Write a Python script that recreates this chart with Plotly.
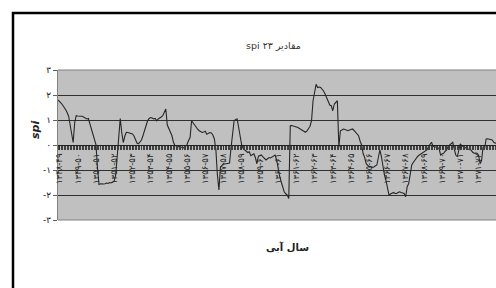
import plotly.graph_objects as go

FA = "۰۱۲۳۴۵۶۷۸۹"
def fa(s):
    return "".join(FA[int(c)] if c.isdigit() else c for c in str(s))

spi_values = [
    1.8, 1.75, 1.68, 1.6, 1.52, 1.42, 1.3, 1.15, 0.8, 0.4,
    0.1, 0.9, 1.17, 1.16, 1.17, 1.15, 1.15, 1.12, 1.06, 1.04,
    1.06, 0.85, 0.65, 0.42, 0.18, 0.02, -0.9, -1.58, -1.55, -1.57,
    -1.56, -1.55, -1.52, -1.54, -1.5, -1.52, -1.48, -1.45, -1.21, -0.5,
    0.1, 1.06, 0.5, 0.1, 0.35, 0.51, 0.5, 0.48, 0.47, 0.44,
    0.37, 0.25, 0.08, 0.05, 0.14, 0.2, 0.38, 0.57, 0.78, 0.97,
    1.06, 1.1, 1.08, 1.04, 1.06, 0.97, 1.04, 1.1, 1.12, 1.17,
    1.3, 1.44, 0.8, 0.68, 0.55, 0.38, 0.12, -0.02, -0.04, -0.06,
    -0.07, -0.1, -0.08, -0.12, -0.06, 0.02, 0.18, 0.3, 0.97, 0.88,
    0.78, 0.7, 0.63, 0.57, 0.55, 0.5, 0.52, 0.55, 0.43, 0.45,
    0.5, 0.48, 0.4, 0.24, -0.2, -1.2, -1.8, -0.88, -0.82, -0.75,
    -0.76, -0.74, -0.75, -0.72, -0.1, 0.44, 0.97, 1.02, 1.04, 0.7,
    0.31, 0.0, -0.15, -0.22, -0.25, -0.3, -0.27, -0.43, -0.38, -0.35,
    -0.5, -0.75, -0.45, -0.42, -0.4, -0.48, -0.55, -0.6, -0.55, -0.5,
    -0.52, -0.48, -0.45, -0.4, -0.6, -1.01, -1.25, -1.47, -1.7, -1.87,
    -1.95, -2.0, -2.14, 0.77, 0.78, 0.77, 0.75, 0.72, 0.7, 0.66,
    0.64, 0.6, 0.55, 0.51, 0.56, 0.64, 0.75, 0.97, 1.77, 2.1,
    2.43, 2.3, 2.32, 2.3, 2.24, 2.15, 2.03, 1.9, 1.77, 1.6,
    1.57, 1.37, 1.64, 1.72, 1.77, -0.09, 0.57, 0.6, 0.64, 0.62,
    0.6, 0.57, 0.6, 0.62, 0.64, 0.58, 0.51, 0.45, 0.37, 0.15,
    0.0, -0.35, -0.5, -0.75, -0.82, -0.88, -0.86, -0.9, -0.88, -0.85,
    -0.8, -0.5, -0.2, -0.45, -0.93, -1.2, -1.41, -1.75, -2.0, -1.96,
    -1.94, -1.9, -1.94, -1.94, -1.9, -1.87, -1.9, -1.92, -1.94, -2.07,
    -1.67, -1.54, -1.14, -0.8, -0.7, -0.6, -0.54, -0.45, -0.4, -0.36,
    -0.33, -0.3, -0.27, -0.2, -0.07, 0.05, 0.11, -0.05, -0.06, -0.07,
    -0.1, -0.14, -0.4, -0.36, -0.33, -0.25, -0.2, -0.05, 0.0, 0.06,
    0.11, -0.15, -0.4, -0.47, -0.2, 0.05, -0.03, -0.07, -0.1, -0.14,
    -0.16, -0.18, -0.2, -0.28, -0.33, -0.32, -0.33, -0.4, -0.75, -0.62,
    -0.07, -0.14, 0.24, 0.25, 0.24, 0.22, 0.2, 0.11, 0.08, 0.05,
]
months = list(range(len(spi_values)))

start_year = 1348
year_tick_months = [1 + 12 * k for k in range(24)]
year_labels = [fa(f"{start_year + k}-{(start_year + k + 1) % 100:02d}") for k in range(24)]

y_ticks = [3, 2, 1, 0, -1, -2, -3]
y_labels = [fa(v) if v >= 0 else "-" + fa(-v) for v in y_ticks]

title_text = "spi " + fa(23) + " مقادیر"
x_title = "سال آبی"
y_title = "spi"

FONT = "DejaVu Sans, Liberation Sans, sans-serif"

fig = go.Figure()
fig.add_trace(go.Scatter(
    x=months, y=spi_values, mode="lines",
    line=dict(color="#262626", width=1.1),
    showlegend=False, hoverinfo="skip",
))

fig.update_layout(
    width=496, height=288,
    margin=dict(l=58, r=0, t=70, b=68),
    paper_bgcolor="white",
    plot_bgcolor="#c0c0c0",
    showlegend=False,
    xaxis=dict(
        range=[0, 288.5],
        anchor="free", position=0.5,
        showgrid=False, zeroline=False,
        showline=True, linecolor="#202020", linewidth=1.2,
        tickmode="array", tickvals=year_tick_months, ticktext=year_labels,
        ticks="outside", ticklen=4, tickcolor="#303030", tickwidth=1,
        tickangle=-90,
        tickfont=dict(family=FONT, size=8.5, color="#262626"),
        minor=dict(tickmode="linear", tick0=0, dtick=1, ticks="outside",
                   ticklen=4, tickcolor="#404040", tickwidth=1, showgrid=False),
    ),
    yaxis=dict(
        range=[-3, 3],
        showgrid=False, zeroline=False,
        showline=True, linecolor="#808080", linewidth=1,
        tickmode="array", tickvals=y_ticks, ticktext=y_labels,
        ticks="outside", ticklen=4, tickcolor="#606060",
        tickfont=dict(family=FONT, size=9, color="#222"),
        minor=dict(tickmode="array", tickvals=[-2, -1, 1, 2],
                   showgrid=True, gridcolor="#303030", gridwidth=1, ticks=""),
    ),
    shapes=[
        dict(type="line", xref="paper", yref="paper", x0=0, x1=1.2, y0=1, y1=1,
             line=dict(color="#808080", width=1)),
        dict(type="line", xref="paper", yref="paper", x0=0, x1=1.2, y0=0, y1=0,
             line=dict(color="#808080", width=1)),
        dict(type="rect", xref="paper", yref="paper",
             xsizemode="pixel", xanchor=0, x0=-45, x1=1000,
             ysizemode="pixel", yanchor=1, y0=-1000, y1=57,
             line=dict(color="black", width=2.5), fillcolor="rgba(0,0,0,0)"),
    ],
    annotations=[
        dict(text=title_text, xref="paper", yref="paper", x=0.491, y=1,
             yshift=25, yanchor="middle", showarrow=False,
             font=dict(family=FONT, size=9.5, color="#333")),
        dict(text="<b>" + x_title + "</b>", xref="paper", yref="paper", x=0.523, y=0,
             yshift=-27, yanchor="middle", showarrow=False,
             font=dict(family=FONT, size=10, color="#222")),
        dict(text="<b><i>" + y_title + "</i></b>", xref="paper", yref="paper",
             x=-0.0525, y=0.6, textangle=-90, showarrow=False,
             xanchor="center", yanchor="middle",
             font=dict(family=FONT, size=11, color="#222")),
    ],
)

fig.write_html(
    "out.html",
    config={"displayModeBar": False},
    post_script="document.body.style.margin='0';document.body.style.overflow='hidden';",
)
